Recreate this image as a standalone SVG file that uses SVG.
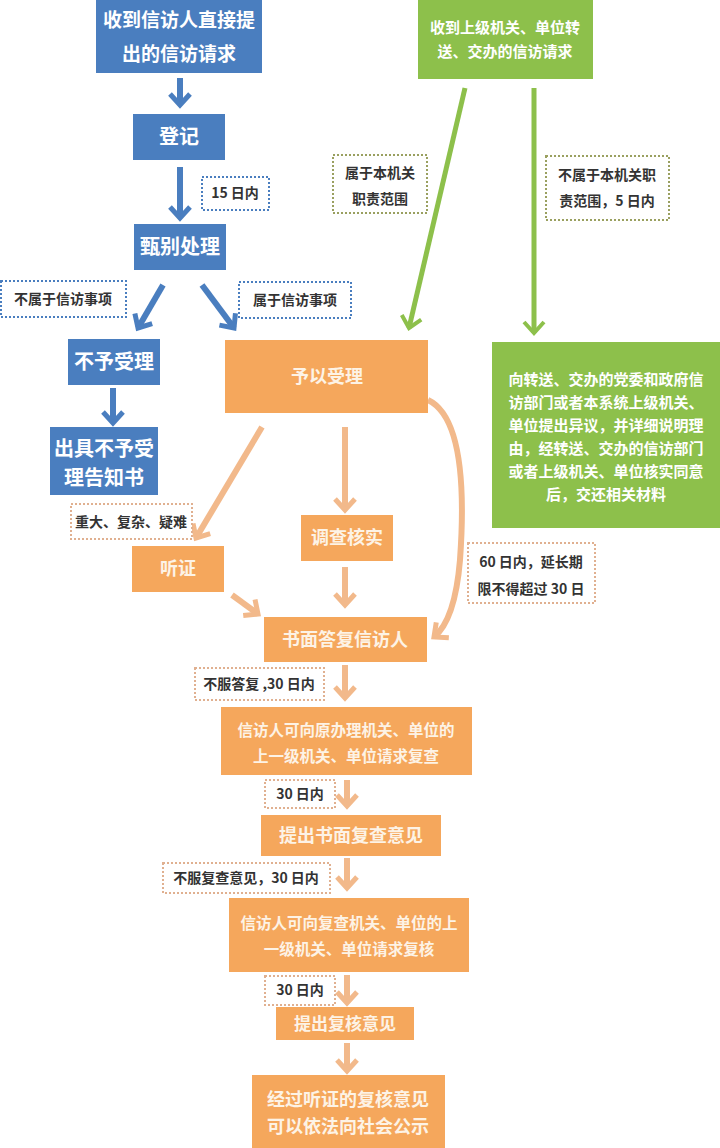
<svg xmlns="http://www.w3.org/2000/svg" width="720" height="1148" viewBox="0 0 720 1148">
<style>
text{font-family:"Noto Sans CJK SC","Liberation Sans",sans-serif;font-weight:bold;text-anchor:middle}
.b{fill:#4a7ebf}.g{fill:#8dc04b}.o{fill:#f5a75c}
.w{fill:#fff}.ow{fill:#fdf3e6}
.lb{fill:#fff;stroke-width:2;stroke-dasharray:2 2}
.lt{fill:#333;font-size:14px}
.ab{stroke:#4a7ebf;stroke-width:6;fill:none}
.ag{stroke:#8dc04b;stroke-width:5;fill:none}
.ao{stroke:#f2b98b;stroke-width:6;fill:none}
</style>
<defs>
<marker id="mb" markerUnits="userSpaceOnUse" viewBox="-14 -12 18 24" refX="0" refY="0" markerWidth="18" markerHeight="24" orient="auto"><path d="M-11,-10 L0,0 L-11,10" fill="none" stroke="#4a7ebf" stroke-width="5"/></marker>
<marker id="mg" markerUnits="userSpaceOnUse" viewBox="-14 -12 18 24" refX="0" refY="0" markerWidth="18" markerHeight="24" orient="auto"><path d="M-11,-10 L0,0 L-11,10" fill="none" stroke="#8dc04b" stroke-width="4"/></marker>
<marker id="mo" markerUnits="userSpaceOnUse" viewBox="-14 -12 18 24" refX="0" refY="0" markerWidth="18" markerHeight="24" orient="auto"><path d="M-11,-10 L0,0 L-11,10" fill="none" stroke="#f2b98b" stroke-width="5"/></marker>
</defs>
<rect width="720" height="1148" fill="#fff"/>
<g id="connectors">
<line class="ab" x1="180" y1="78" x2="180" y2="105" marker-end="url(#mb)"/>
<line class="ab" x1="180" y1="167" x2="180" y2="218" marker-end="url(#mb)"/>
<line class="ab" x1="163" y1="285" x2="138" y2="328" marker-end="url(#mb)"/>
<line class="ab" x1="202" y1="285" x2="234" y2="328" marker-end="url(#mb)"/>
<line class="ab" x1="113" y1="388" x2="113" y2="423" marker-end="url(#mb)"/>
<line class="ag" x1="465" y1="88" x2="409" y2="328" marker-end="url(#mg)"/>
<line class="ag" x1="534" y1="88" x2="534" y2="333" marker-end="url(#mg)"/>
<line class="ao" x1="262" y1="427" x2="196" y2="538" marker-end="url(#mo)"/>
<line class="ao" x1="345" y1="427" x2="345" y2="510" marker-end="url(#mo)"/>
<line class="ao" x1="345" y1="567" x2="345" y2="605" marker-end="url(#mo)"/>
<line class="ao" x1="232" y1="595" x2="258" y2="614" marker-end="url(#mo)"/>
<path class="ao" d="M428,400 Q470,420 460,560 Q455,620 434,637" stroke-width="4" marker-end="url(#mo)"/>
<line class="ao" x1="345" y1="665" x2="345" y2="698" marker-end="url(#mo)"/>
<line class="ao" x1="347" y1="780" x2="347" y2="806" marker-end="url(#mo)"/>
<line class="ao" x1="347" y1="858" x2="347" y2="888" marker-end="url(#mo)"/>
<line class="ao" x1="347" y1="975" x2="347" y2="1003" marker-end="url(#mo)"/>
<line class="ao" x1="347" y1="1043" x2="347" y2="1071" marker-end="url(#mo)"/>
</g>
<g id="labels">
<rect class="lb" stroke="#4a7ebf" x="202" y="177" width="67" height="33"/><text class="lt" x="235" y="198">15 日内</text>
<rect class="lb" stroke="#4a7ebf" x="1" y="281" width="125" height="36"/><text class="lt" x="63" y="304">不属于信访事项</text>
<rect class="lb" stroke="#4a7ebf" x="239" y="282" width="112" height="36"/><text class="lt" x="295" y="305">属于信访事项</text>
<rect class="lb" stroke="#9aa060" x="333" y="155" width="94" height="58"/><text class="lt" x="380" y="178">属于本机关</text><text class="lt" x="380" y="204">职责范围</text>
<rect class="lb" stroke="#9aa060" x="546" y="156" width="123" height="64"/><text class="lt" x="607" y="180">不属于本机关职</text><text class="lt" x="607" y="206">责范围，5 日内</text>
<rect class="lb" stroke="#e0b090" x="71" y="504" width="121" height="35"/><text class="lt" x="131" y="527">重大、复杂、疑难</text>
<rect class="lb" stroke="#e0b090" x="468" y="543" width="127" height="60"/><text class="lt" x="531" y="567">60 日内，延长期</text><text class="lt" x="531" y="594">限不得超过 30 日</text>
<rect class="lb" stroke="#e0b090" x="195" y="668" width="129" height="32"/><text class="lt" x="259" y="689">不服答复 ,30 日内</text>
<rect class="lb" stroke="#e0b090" x="265" y="780" width="70" height="28"/><text class="lt" x="300" y="799">30 日内</text>
<rect class="lb" stroke="#e0b090" x="163" y="863" width="167" height="30"/><text class="lt" x="246" y="883">不服复查意见，30 日内</text>
<rect class="lb" stroke="#e0b090" x="265" y="976" width="70" height="29"/><text class="lt" x="300" y="995">30 日内</text>
</g>
<g id="n1"><rect class="b" x="96" y="0" width="166" height="73"/><text class="w" font-size="19" x="179" y="27">收到信访人直接提</text><text class="w" font-size="19" x="179" y="61">出的信访请求</text></g>
<g id="n2"><rect class="b" x="133" y="114" width="92" height="46"/><text class="w" font-size="20" x="179" y="144">登记</text></g>
<g id="n3"><rect class="b" x="134" y="224" width="92" height="46"/><text class="w" font-size="20" x="180" y="254">甄别处理</text></g>
<g id="n4"><rect class="b" x="68" y="339" width="92" height="46"/><text class="w" font-size="20" x="114" y="369">不予受理</text></g>
<g id="n5"><rect class="b" x="50" y="427" width="108" height="68"/><text class="w" font-size="20" x="104" y="456">出具不予受</text><text class="w" font-size="20" x="104" y="485">理告知书</text></g>
<g id="n6"><rect class="g" x="418" y="0" width="175" height="79"/><text class="w" font-size="15" x="505" y="33">收到上级机关、单位转</text><text class="w" font-size="15" x="505" y="57">送、交办的信访请求</text></g>
<g id="n7"><rect class="g" x="492" y="342" width="228" height="186"/>
<text class="w" font-size="15" x="606" y="385">向转送、交办的党委和政府信</text>
<text class="w" font-size="15" x="606" y="408">访部门或者本系统上级机关、</text>
<text class="w" font-size="15" x="606" y="431">单位提出异议，并详细说明理</text>
<text class="w" font-size="15" x="606" y="454">由，经转送、交办的信访部门</text>
<text class="w" font-size="15" x="606" y="477">或者上级机关、单位核实同意</text>
<text class="w" font-size="15" x="606" y="500">后，交还相关材料</text></g>
<g id="n8"><rect class="o" x="225" y="340" width="203" height="73"/><text class="ow" font-size="18" x="327" y="383">予以受理</text></g>
<g id="n9"><rect class="o" x="132" y="546" width="92" height="46"/><text class="ow" font-size="18" x="178" y="575">听证</text></g>
<g id="n10"><rect class="o" x="301" y="515" width="92" height="46"/><text class="ow" font-size="18" x="347" y="544">调查核实</text></g>
<g id="n11"><rect class="o" x="264" y="617" width="163" height="45"/><text class="ow" font-size="18" x="345" y="646">书面答复信访人</text></g>
<g id="n12"><rect class="o" x="221" y="707" width="251" height="68"/><text class="ow" font-size="15.5" x="346" y="736">信访人可向原办理机关、单位的</text><text class="ow" font-size="15.5" x="346" y="762">上一级机关、单位请求复查</text></g>
<g id="n13"><rect class="o" x="261" y="815" width="180" height="41"/><text class="ow" font-size="18" x="351" y="842">提出书面复查意见</text></g>
<g id="n14"><rect class="o" x="229" y="898" width="240" height="74"/><text class="ow" font-size="15.5" x="349" y="929">信访人可向复查机关、单位的上</text><text class="ow" font-size="15.5" x="349" y="955">一级机关、单位请求复核</text></g>
<g id="n15"><rect class="o" x="276" y="1007" width="138" height="33"/><text class="ow" font-size="17" x="345" y="1030">提出复核意见</text></g>
<g id="n16"><rect class="o" x="252" y="1075" width="193" height="73"/><text class="ow" font-size="18" x="348" y="1106">经过听证的复核意见</text><text class="ow" font-size="18" x="348" y="1133">可以依法向社会公示</text></g>
</svg>
